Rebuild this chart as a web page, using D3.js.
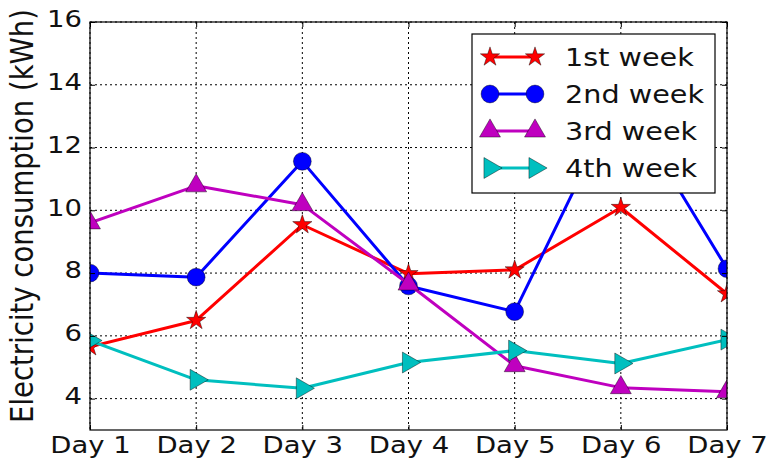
<!DOCTYPE html>
<html>
<head>
<meta charset="utf-8">
<script src="https://cdn.jsdelivr.net/npm/d3@7"></script>
<style>
  html, body { margin: 0; padding: 0; background: #fff; }
  svg { display: block; font-family: "DejaVu Sans", sans-serif; }
</style>
</head>
<body>
<svg id="chart" width="772" height="463"></svg>
<script>
// Daily electricity consumption over four weeks
const days = ["Day 1", "Day 2", "Day 3", "Day 4", "Day 5", "Day 6", "Day 7"];
const week1 = [5.65, 6.49, 9.54, 7.98, 8.10, 10.09, 7.34];
const week2 = [8.00, 7.87, 11.56, 7.59, 6.77, 13.70, 8.14];
const week3 = [9.60, 10.78, 10.18, 7.65, 5.05, 4.35, 4.22];
const week4 = [5.85, 4.60, 4.33, 5.15, 5.53, 5.12, 5.88];
const seriesNames = ["1st week", "2nd week", "3rd week", "4th week"];
const yTicks = [4, 6, 8, 10, 12, 14, 16];
const yLabel = "Electricity consumption (kWh)";

const series = [
  { name: seriesNames[0], values: week1, color: "#ff0000", symbol: d3.symbolStar, size: 115, rot: 0 },
  { name: seriesNames[1], values: week2, color: "#0000ff", symbol: d3.symbolCircle, size: 250, rot: 0 },
  { name: seriesNames[2], values: week3, color: "#bf00bf", symbol: d3.symbolTriangle, size: 190, rot: 0 },
  { name: seriesNames[3], values: week4, color: "#00bfbf", symbol: d3.symbolTriangle, size: 190, rot: 90 }
];

const plot = { left: 90, right: 727, top: 22, bottom: 430 };
const stretch = 1.17;       // horizontal widening of the label glyphs
const tickFont = 23.5;

const svg = d3.select("#chart");
const x = d3.scalePoint().domain(days).range([plot.left, plot.right]);
const y = d3.scaleLinear().domain([3, 16]).range([plot.bottom, plot.top]);

// clip region for the plotting area
svg.append("defs").append("clipPath").attr("id", "plot-clip")
  .append("rect")
  .attr("x", plot.left).attr("y", plot.top)
  .attr("width", plot.right - plot.left).attr("height", plot.bottom - plot.top);

// dotted grid
const grid = svg.append("g").attr("stroke", "#000").attr("stroke-width", 1)
  .attr("stroke-dasharray", "2,3");
grid.selectAll("line.gx").data(days).join("line").attr("class", "gx")
  .attr("x1", d => x(d)).attr("x2", d => x(d))
  .attr("y1", plot.top).attr("y2", plot.bottom);
grid.selectAll("line.gy").data(yTicks).join("line").attr("class", "gy")
  .attr("x1", plot.left).attr("x2", plot.right)
  .attr("y1", d => y(d)).attr("y2", d => y(d));

// series lines and markers
const lineGen = (vals) => d3.line().x((d, i) => x(days[i])).y(d => y(d))(vals);
const plotG = svg.append("g").attr("clip-path", "url(#plot-clip)");

function drawMarker(g, s, cx, cy) {
  g.append("path")
    .attr("d", d3.symbol().type(s.symbol).size(s.size)())
    .attr("transform", `translate(${cx},${cy}) rotate(${s.rot})`)
    .attr("fill", s.color)
    .attr("stroke", "#000")
    .attr("stroke-width", 0.6)
    .attr("stroke-opacity", 0.7);
}

series.forEach(s => {
  plotG.append("path")
    .attr("d", lineGen(s.values))
    .attr("fill", "none")
    .attr("stroke", s.color)
    .attr("stroke-width", 3)
    .attr("stroke-linejoin", "round");
  s.values.forEach((v, i) => drawMarker(plotG, s, x(days[i]), y(v)));
});

// axes with inward ticks on all four sides
const xAxis = svg.append("g").attr("transform", `translate(0,${plot.bottom})`)
  .call(d3.axisBottom(x).tickSize(-5).tickPadding(6));
const yAxis = svg.append("g").attr("transform", `translate(${plot.left},0)`)
  .call(d3.axisLeft(y).tickValues(yTicks).tickSize(-5).tickPadding(8).tickFormat(d3.format("d")));
svg.append("g").attr("transform", `translate(0,${plot.top})`)
  .call(d3.axisTop(x).tickSize(-5).tickFormat(""));
svg.append("g").attr("transform", `translate(${plot.right},0)`)
  .call(d3.axisRight(y).tickValues(yTicks).tickSize(-5).tickFormat(""));

svg.selectAll(".domain").remove();
svg.selectAll(".tick line").attr("stroke", "#000").attr("stroke-width", 1);

xAxis.selectAll("text")
  .attr("font-size", tickFont)
  .attr("fill", "#111")
  .attr("font-family", "DejaVu Sans")
  .attr("transform", `scale(${stretch},1)`);
yAxis.selectAll("text")
  .attr("font-size", tickFont)
  .attr("fill", "#111")
  .attr("font-family", "DejaVu Sans")
  .attr("x", -8 / stretch)
  .attr("dy", "0.2em")
  .attr("transform", `scale(${stretch},1)`);

// frame
svg.append("rect")
  .attr("x", plot.left).attr("y", plot.top)
  .attr("width", plot.right - plot.left).attr("height", plot.bottom - plot.top)
  .attr("fill", "none").attr("stroke", "#000").attr("stroke-width", 1.2);

// y axis title
svg.append("text")
  .attr("transform", `translate(33,216) rotate(-90) scale(1,${stretch})`)
  .attr("text-anchor", "middle")
  .attr("font-size", 27.5)
  .attr("fill", "#111")
  .text(yLabel);

// legend
const legend = { x: 472, y: 34, w: 243, h: 159, row0: 57, step: 37 };
const lg = svg.append("g");
lg.append("rect")
  .attr("x", legend.x).attr("y", legend.y)
  .attr("width", legend.w).attr("height", legend.h)
  .attr("fill", "#fff").attr("stroke", "#000").attr("stroke-width", 1.2);
series.forEach((s, i) => {
  const ry = legend.row0 + i * legend.step;
  lg.append("line")
    .attr("x1", 490).attr("x2", 535).attr("y1", ry).attr("y2", ry)
    .attr("stroke", s.color).attr("stroke-width", 3);
  drawMarker(lg, s, 490, ry);
  drawMarker(lg, s, 535, ry);
  lg.append("text")
    .attr("transform", `translate(565,${ry}) scale(${stretch},1)`)
    .attr("dy", "0.36em")
    .attr("font-size", 24.5)
    .attr("fill", "#111")
    .text(s.name);
});
</script>
</body>
</html>
